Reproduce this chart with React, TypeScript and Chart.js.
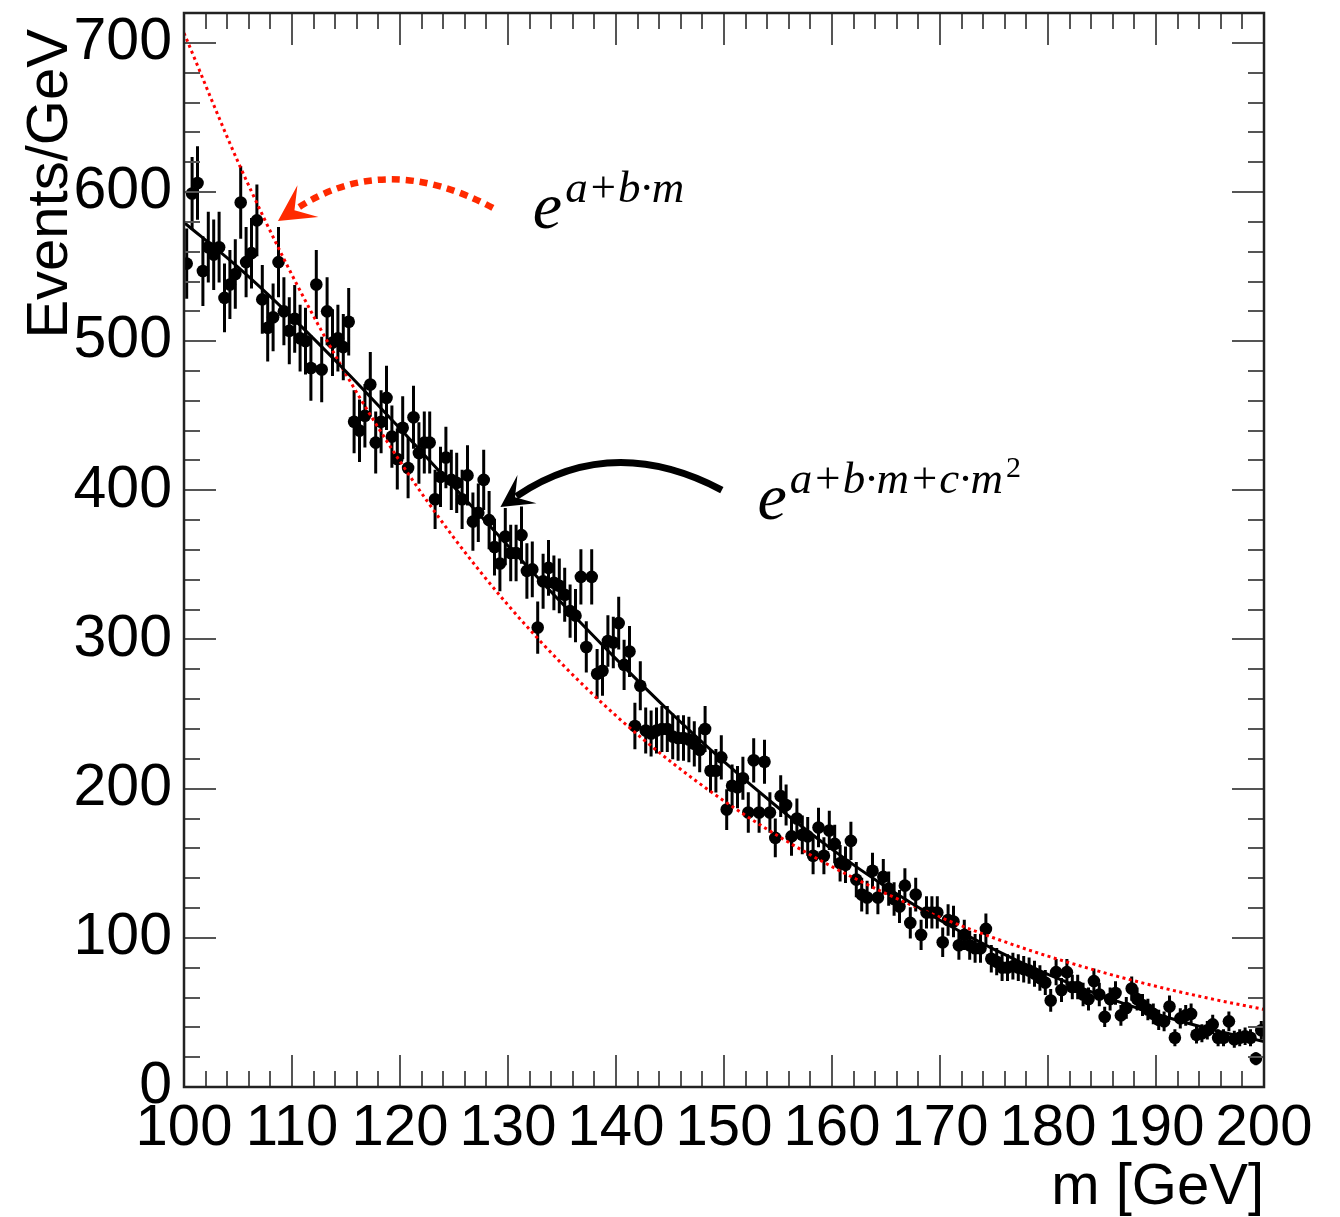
import React, { useEffect, useRef } from "react";
import { Chart, registerables } from "chart.js";

Chart.register(...registerables);

// ---------- data ----------
const BIN_START = 100; // GeV
const BIN_WIDTH = 0.5; // GeV

const events100to120 = [
  552, 599, 606, 547, 563, 558, 563, 529, 538, 545, 593, 553, 559, 581, 528, 509, 516, 553, 520, 507,
  515, 502, 500, 482, 538, 481, 520, 499, 502, 496, 513, 446, 440, 450, 471, 432, 446, 462, 436, 421,
];
const events120to140 = [
  442, 415, 449, 425, 432, 432, 394, 409, 422, 407, 405, 394, 410, 379, 385, 407, 380, 362, 351, 369,
  358, 358, 370, 346, 347, 308, 339, 348, 338, 336, 330, 319, 316, 342, 295, 342, 277, 279, 299, 298,
];
const events140to160 = [
  311, 283, 292, 242, 269, 239, 237, 239, 240, 240, 235, 234, 234, 233, 230, 226, 240, 212, 212, 221,
  186, 202, 201, 207, 184, 219, 184, 218, 184, 167, 195, 189, 168, 180, 169, 168, 155, 174, 155, 172,
];
const events160to180 = [
  163, 150, 149, 165, 139, 129, 127, 145, 127, 141, 133, 126, 121, 135, 110, 129, 102, 117, 117, 117,
  97, 112, 111, 95, 102, 95, 93, 93, 106, 86, 84, 80, 80, 81, 80, 79, 78, 76, 73, 70,
];
const events180to200 = [
  58, 77, 65, 77, 67, 67, 62, 59, 71, 62, 47, 59, 63, 48, 53, 66, 59, 55, 52, 49,
  45, 44, 54, 33, 46, 48, 49, 35, 36, 38, 42, 33, 33, 44, 32, 33, 34, 33, 19, 38,
];

// fit curves every 5 GeV
const fitMass = [100, 105, 110, 115, 120, 125, 130, 135, 140, 145, 150, 155, 160, 165, 170, 175, 180, 185, 190, 195, 200];
const quadExpFit = [579.6, 549.6, 516.0, 479.7, 441.4, 402.2, 362.9, 324.3, 287.0, 251.4, 218.1, 187.4, 159.3, 134.1, 111.8, 92.3, 75.5, 61.1, 48.9, 38.8, 30.5];
const linExpFit = [706.6, 620.2, 544.4, 477.8, 419.4, 368.1, 323.1, 283.6, 248.9, 218.5, 191.8, 168.3, 147.7, 129.7, 113.8, 99.9, 87.7, 77.0, 67.5, 59.3, 52.0];

const xTickValues = [100, 110, 120, 130, 140, 150, 160, 170, 180, 190, 200];
const yTickValues = [0, 100, 200, 300, 400, 500, 600, 700];
const X_MIN = 100, X_MAX = 200, Y_MIN = 0, Y_MAX = 720;

// annotations (data coordinates)
const redArrow = { start: [128.6, 589.3], ctrl: [118.6, 628.1], tip: [108.7, 580.5] };
const blackArrow = { start: [149.8, 400.2], ctrl: [139.6, 439.1], tip: [129.3, 388.8] };
const linLabel = { pos: [132.3, 575.9], exponent: "a+b\u00B7m", power: "" };
const quadLabel = { pos: [153.1, 380.8], exponent: "a+b\u00B7m+c\u00B7m", power: "2" };

const SANS = "'Liberation Sans', Arial, Helvetica, sans-serif";
const SERIF = "'Liberation Serif', 'Times New Roman', serif";

// ---------- plugins ----------
const framePlugin = {
  id: "rootFrame",
  afterDraw(chart: any) {
    const { ctx, chartArea: a, scales } = chart;
    const xs = scales.x, ys = scales.y;
    ctx.save();
    ctx.strokeStyle = "#555";
    ctx.lineWidth = 2;
    ctx.beginPath();
    for (let m = X_MIN; m <= X_MAX; m += 2) {
      const px = Math.round(xs.getPixelForValue(m));
      const len = m % 10 === 0 ? 32 : 16;
      ctx.moveTo(px, a.bottom); ctx.lineTo(px, a.bottom - len);
      ctx.moveTo(px, a.top); ctx.lineTo(px, a.top + len);
    }
    for (let v = Y_MIN; v <= Y_MAX; v += 20) {
      const py = Math.round(ys.getPixelForValue(v));
      const len = v % 100 === 0 ? 32 : 16;
      ctx.moveTo(a.left, py); ctx.lineTo(a.left + len, py);
      ctx.moveTo(a.right, py); ctx.lineTo(a.right - len, py);
    }
    ctx.stroke();
    ctx.strokeStyle = "#222";
    ctx.lineWidth = 2.5;
    ctx.strokeRect(a.left, a.top, a.right - a.left, a.bottom - a.top);
    ctx.restore();
  },
};

const errorBarPlugin = {
  id: "errorBars",
  beforeDatasetsDraw(chart: any) {
    const { ctx, chartArea: a, scales } = chart;
    const ds = chart.data.datasets[0];
    ctx.save();
    ctx.beginPath();
    ctx.rect(a.left, a.top, a.right - a.left, a.bottom - a.top);
    ctx.clip();
    ctx.strokeStyle = "#000";
    ctx.lineWidth = 3;
    ctx.beginPath();
    ds.data.forEach((p: any) => {
      const err = Math.sqrt(p.y);
      const px = scales.x.getPixelForValue(p.x);
      ctx.moveTo(px, scales.y.getPixelForValue(p.y + err));
      ctx.lineTo(px, scales.y.getPixelForValue(p.y - err));
    });
    ctx.stroke();
    ctx.restore();
  },
};

function drawArrow(chart: any, arrow: any, color: string, width: number, dash: number[], len: number, half: number) {
  const { ctx, scales } = chart;
  const P = (d: number[]) => [scales.x.getPixelForValue(d[0]), scales.y.getPixelForValue(d[1])];
  const [sx, sy] = P(arrow.start);
  const [cx, cy] = P(arrow.ctrl);
  const [tx, ty] = P(arrow.tip);
  const dx = tx - cx, dy = ty - cy;
  const d = Math.hypot(dx, dy);
  const ux = dx / d, uy = dy / d;
  const nx = -uy, ny = ux;
  const ex = tx - ux * len * 0.6, ey = ty - uy * len * 0.6;
  ctx.save();
  ctx.strokeStyle = color;
  ctx.fillStyle = color;
  ctx.lineWidth = width;
  ctx.setLineDash(dash);
  ctx.beginPath();
  ctx.moveTo(sx, sy);
  ctx.quadraticCurveTo(cx, cy, ex, ey);
  ctx.stroke();
  ctx.setLineDash([]);
  const bx = tx - ux * len, by = ty - uy * len;
  ctx.beginPath();
  ctx.moveTo(tx, ty);
  ctx.lineTo(bx + nx * half, by + ny * half);
  ctx.lineTo(tx - ux * len * 0.55, ty - uy * len * 0.55);
  ctx.lineTo(bx - nx * half, by - ny * half);
  ctx.closePath();
  ctx.fill();
  ctx.restore();
}

function drawFormula(chart: any, label: any) {
  const { ctx, scales } = chart;
  const x0 = scales.x.getPixelForValue(label.pos[0]);
  const y0 = scales.y.getPixelForValue(label.pos[1]);
  ctx.save();
  ctx.fillStyle = "#000";
  ctx.textBaseline = "alphabetic";
  ctx.textAlign = "left";
  ctx.font = `italic 66px ${SERIF}`;
  ctx.fillText("e", x0, y0);
  const ew = ctx.measureText("e").width;
  ctx.font = `italic 45px ${SERIF}`;
  const ex = x0 + ew + 3;
  ctx.fillText(label.exponent, ex, y0 - 26);
  const w = ctx.measureText(label.exponent).width;
  if (label.power) {
    ctx.font = `30px ${SERIF}`;
    ctx.fillText(label.power, ex + w + 3, y0 - 42);
  }
  ctx.restore();
}

const annotationPlugin = {
  id: "annotations",
  afterDraw(chart: any) {
    drawArrow(chart, redArrow, "#ff2a00", 6.5, [8, 6], 36, 19);
    drawArrow(chart, blackArrow, "#000", 7, [], 32, 17);
    drawFormula(chart, linLabel);
    drawFormula(chart, quadLabel);
  },
};

// ---------- component ----------
export default function App() {
  const ref = useRef<HTMLCanvasElement>(null);

  useEffect(() => {
    const canvas = ref.current;
    if (!canvas) return;
    const events = [...events100to120, ...events120to140, ...events140to160, ...events160to180, ...events180to200];
    const points = events.map((v, i) => ({ x: BIN_START + BIN_WIDTH * (i + 0.5), y: v }));

    const chart = new Chart(canvas, {
      type: "scatter",
      data: {
        datasets: [
          {
            label: "data",
            data: points,
            showLine: false,
            pointRadius: 6.3,
            pointHoverRadius: 6.3,
            pointBackgroundColor: "#000",
            pointBorderWidth: 0,
            order: 3,
          },
          {
            label: "exp(a+b·m)",
            type: "line",
            data: fitMass.map((m, i) => ({ x: m, y: linExpFit[i] })),
            borderColor: "#ff0000",
            borderWidth: 3,
            borderDash: [3, 3.5],
            pointRadius: 0,
            cubicInterpolationMode: "monotone",
            fill: false,
            order: 2,
          },
          {
            label: "exp(a+b·m+c·m²)",
            type: "line",
            data: fitMass.map((m, i) => ({ x: m, y: quadExpFit[i] })),
            borderColor: "#000",
            borderWidth: 3,
            pointRadius: 0,
            cubicInterpolationMode: "monotone",
            fill: false,
            order: 1,
          },
        ],
      } as any,
      options: {
        animation: false,
        responsive: false,
        devicePixelRatio: 1,
        layout: { padding: { top: 13, right: 76, bottom: 0, left: 0 } },
        plugins: { legend: { display: false }, tooltip: { enabled: false } },
        scales: {
          x: {
            type: "linear",
            min: X_MIN,
            max: X_MAX,
            grid: { display: false, drawTicks: false },
            border: { display: false },
            afterBuildTicks: (s: any) => { s.ticks = xTickValues.map((v) => ({ value: v })); },
            afterFit: (s: any) => { s.height = 130; s.paddingLeft = 0; s.paddingRight = 0; },
            ticks: {
              padding: 7,
              color: "#000",
              maxRotation: 0,
              autoSkip: false,
              font: { family: SANS, size: 58 },
            },
            title: {
              display: true,
              text: "m [GeV]",
              align: "end",
              color: "#000",
              padding: { top: 0, bottom: 0 },
              font: { family: SANS, size: 58, lineHeight: 1 },
            },
          },
          y: {
            type: "linear",
            min: Y_MIN,
            max: Y_MAX,
            grid: { display: false, drawTicks: false },
            border: { display: false },
            afterBuildTicks: (s: any) => { s.ticks = yTickValues.map((v) => ({ value: v })); },
            afterFit: (s: any) => { s.width = 184; s.paddingTop = 0; s.paddingBottom = 0; },
            ticks: {
              padding: 12,
              color: "#000",
              autoSkip: false,
              font: { family: SANS, size: 59 },
            },
            title: {
              display: true,
              text: "Events/GeV ",
              align: "end",
              color: "#000",
              padding: { top: 16, bottom: 0 },
              font: { family: SANS, size: 58 },
            },
          },
        },
      } as any,
      plugins: [errorBarPlugin, framePlugin, annotationPlugin],
    });
    return () => chart.destroy();
  }, []);

  return (
    <div style={{ position: "absolute", left: 0, top: 0, width: 1340, height: 1217, background: "#fff" }}>
      <canvas ref={ref} width={1340} height={1217} style={{ display: "block" }} />
    </div>
  );
}
